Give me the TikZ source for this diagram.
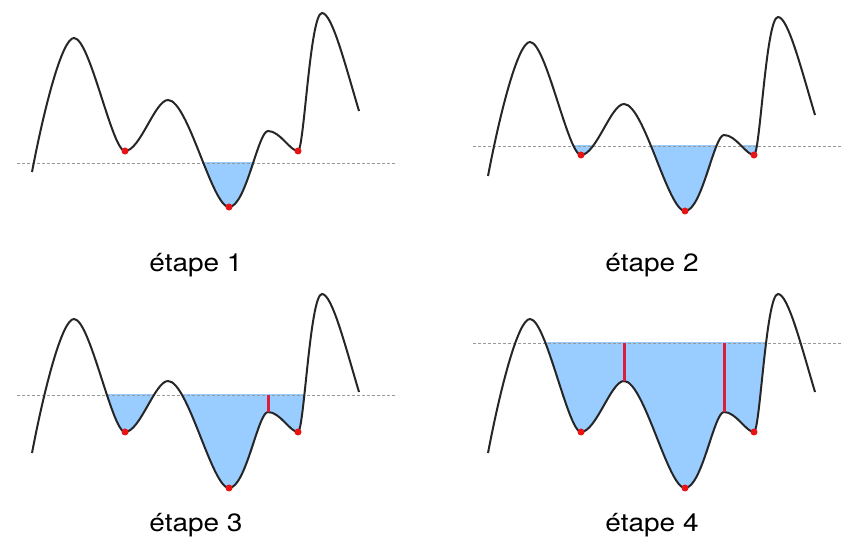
\documentclass[tikz,border=0pt]{standalone}
\usepackage{fontspec}
\setmainfont{TeX Gyre Heros}
\newfontfamily\legfont[FakeStretch=1.12]{TeX Gyre Heros}
\definecolor{eau}{RGB}{153,204,255}
\definecolor{digue}{RGB}{220,30,60}
\definecolor{minrouge}{RGB}{230,20,20}
% relief profile, local frame of stage 1
\newcommand\relief{(32,377) .. controls (44,440) and (62,511) .. (74,511)
  .. controls (90,511) and (112,398) .. (125,398)
  .. controls (140,398) and (155,449) .. (168,449)
  .. controls (188,449) and (212,342) .. (229,342)
  .. controls (246,342) and (258,418) .. (268,418)
  .. controls (280,418) and (290,398) .. (298,398)
  .. controls (304,398) and (310,536) .. (322,536)
  .. controls (332,536) and (345,485) .. (359,438)}
\begin{document}
\begin{tikzpicture}[x=1pt, y=1pt,
  profil/.style={line width=2pt, black!85},
  niveau/.style={gray!80, line width=0.7pt, dash pattern=on 3pt off 2pt},
  minimum/.style={circle, fill=minrouge, inner sep=0pt, minimum size=7pt},
  barrage/.style={digue, line width=3pt},
  legende/.style={font=\legfont\fontsize{25}{29}\selectfont}]
\useasboundingbox (0,0) rectangle (841,549);
\foreach \dx/\dy/\lev/\xend/\ly/\num in {0/0/386/397/284/1, 456/-4/407/385/288/2, 0/-281/435/397/305/3, 456/-281/487/385/305/4}{
  \begin{scope}[shift={(\dx,\dy)}]
    % water between relief and level
    \begin{scope}
      \clip (74,\lev) rectangle (322,300);
      \fill[eau] \relief -- (359,560) -- (32,560) -- cycle;
    \end{scope}
    \draw[niveau] (17,\lev) -- (\xend,\lev);
    \draw[profil] \relief;
    \node[minimum] (m1-\num) at (125,398) {};
    \node[minimum] (m2-\num) at (229,342) {};
    \node[minimum] (m3-\num) at (298,398) {};
    \node[legende] (etape-\num) at (196,\ly) {étape \num};
  \end{scope}
}
% dams
\draw[barrage] (268,154) -- (268,137);
\draw[barrage] (624,206) -- (624,168);
\draw[barrage] (724,206) -- (724,137);
\end{tikzpicture}
\end{document}
